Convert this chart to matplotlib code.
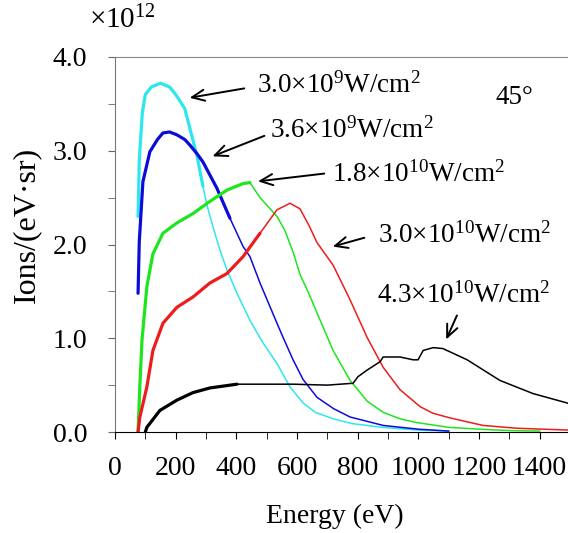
import numpy as np
import matplotlib
matplotlib.use("Agg")
import matplotlib.pyplot as plt
from matplotlib.ticker import MultipleLocator, FormatStrFormatter

plt.rcParams['font.family'] = ['Liberation Serif', 'DejaVu Serif']
plt.rcParams['mathtext.fontset'] = 'custom'
plt.rcParams['mathtext.rm'] = 'Liberation Serif'
plt.rcParams['mathtext.it'] = 'Liberation Serif:italic'

# energies (eV) and yields (x1e12 ions/(eV sr))
cyan_e = [76, 80, 90, 100, 120, 150, 180, 200, 230, 250, 270, 290, 303, 323, 346,
          369, 402, 445, 488, 534, 577, 620, 660, 720, 780, 880, 1000, 1100]
cyan_y = [2.3, 2.9, 3.4, 3.6, 3.68, 3.72, 3.68, 3.6, 3.45, 3.2, 2.95, 2.62, 2.42, 2.19, 1.94,
          1.73, 1.48, 1.19, 0.95, 0.73, 0.48, 0.31, 0.21, 0.14, 0.09, 0.05, 0.02, 0.01]

blue_e = [76, 80, 92, 115, 140, 158, 180, 204, 230, 247, 270, 290, 336, 379, 422,
          445, 478, 534, 554, 587, 620, 666, 720, 775, 884, 1000, 1100]
blue_y = [1.48, 2.03, 2.67, 2.99, 3.12, 3.19, 3.2, 3.17, 3.12, 3.06, 2.97, 2.88, 2.6, 2.28, 1.98,
          1.87, 1.59, 1.16, 1.01, 0.77, 0.56, 0.37, 0.25, 0.16, 0.07, 0.03, 0.01]

green_e = [76, 82, 89, 105, 125, 158, 204, 257, 313, 369, 422, 445, 478, 534, 560, 587,
           610, 640, 666, 719, 775, 831, 884, 940, 996, 1100, 1200, 1300, 1400]
green_y = [0.0, 0.5, 0.98, 1.55, 1.9, 2.12, 2.23, 2.33, 2.46, 2.58, 2.65, 2.66, 2.5, 2.3, 2.15, 1.92,
           1.68, 1.47, 1.27, 0.87, 0.55, 0.33, 0.21, 0.14, 0.1, 0.05, 0.03, 0.015, 0.01]

red_e = [76, 82, 105, 125, 158, 204, 257, 313, 369, 422, 478, 534, 577, 610, 640, 666,
         719, 775, 831, 884, 940, 1006, 1048, 1105, 1213, 1325, 1500]
red_y = [0.0, 0.16, 0.48, 0.87, 1.16, 1.33, 1.44, 1.59, 1.69, 1.87, 2.12, 2.37, 2.44, 2.38, 2.2, 2.02,
         1.78, 1.41, 1.01, 0.69, 0.45, 0.27, 0.2, 0.15, 0.07, 0.04, 0.02]

black_e = [100, 105, 148, 204, 257, 313, 402, 478, 587, 700, 785, 801, 831, 874, 884,
           940, 983, 999, 1016, 1049, 1081, 1161, 1269, 1378, 1490, 1500]
black_y = [0.0, 0.05, 0.23, 0.34, 0.42, 0.47, 0.51, 0.51, 0.51, 0.5, 0.52, 0.59, 0.66, 0.75, 0.8,
           0.8, 0.77, 0.77, 0.87, 0.9, 0.89, 0.77, 0.55, 0.41, 0.31, 0.30]

labels = ['3.0×10$^{9}$W/cm$^{2}$', '3.6×10$^{9}$W/cm$^{2}$',
          '1.8×10$^{10}$W/cm$^{2}$', '3.0×10$^{10}$W/cm$^{2}$',
          '4.3×10$^{10}$W/cm$^{2}$']

series = [
    (cyan_e, cyan_y, '#2ee6ee', 300),
    (blue_e, blue_y, '#0c0cd8', 420),
    (green_e, green_y, '#1ee61e', 460),
    (red_e, red_y, '#ee1c1c', 520),
    (black_e, black_y, '#000000', 460),
]

fig = plt.figure(figsize=(5.68, 5.33), dpi=100)
ax = fig.add_axes([115 / 568, 101 / 533, 455 / 568, 375 / 533])

for e, y, c, noisy_end in series:
    e = np.array(e, dtype=float)
    y = np.array(y)
    ax.plot(e, y, color=c, lw=1.1)
    m = e <= noisy_end
    ax.plot(e[m], y[m], color=c, lw=2.3, solid_joinstyle='round', solid_capstyle='round')

ax.set_xlim(0, 1500)
ax.set_ylim(0, 4.0)
ax.xaxis.set_major_locator(MultipleLocator(200))
ax.xaxis.set_minor_locator(MultipleLocator(100))
ax.yaxis.set_major_locator(MultipleLocator(1.0))
ax.yaxis.set_minor_locator(MultipleLocator(0.5))
ax.yaxis.set_major_formatter(FormatStrFormatter('%.1f'))
ax.tick_params(axis='both', which='both', direction='out', labelsize=20)
ax.tick_params(axis='x', which='both', length=5, pad=12)
ax.tick_params(axis='y', which='both', length=5, pad=15, color='#666666')
ax.spines['right'].set_visible(False)
ax.spines['top'].set_color('#888888')
ax.spines['left'].set_color('#777777')

fs = 19.5
arrow = dict(arrowstyle='->,head_length=0.9,head_width=0.4', color='black', lw=1.4)
# (arrow head, arrow tail, text position)
notes = [
    ((237, 3.56), (435, 3.67), (468, 3.62)),
    ((313, 2.93), (501, 3.17), (511, 3.14)),
    ((462, 2.67), (699, 2.76), (715, 2.67)),
    ((709, 1.97), (831, 2.08), (867, 2.02)),
    ((1088, 0.96), (1131, 1.27), (864, 1.38)),
]
for lab, (head, tail, txt) in zip(labels, notes):
    ax.annotate('', xy=head, xytext=tail, arrowprops=arrow)
    ax.text(txt[0], txt[1], lab, fontsize=fs, va='baseline', ha='left')

ax.text(1253, 3.50, '45°', fontsize=fs, va='baseline', ha='left')

fig.text(89 / 568, 1 - 28 / 533, '×10$^{12}$', fontsize=21, va='baseline', ha='left')
fig.text(335 / 568, 1 - 523 / 533, 'Energy (eV)', fontsize=20, va='baseline', ha='center')
fig.text(27 / 568, 1 - 225 / 533, 'Ions/(eV·sr)', fontsize=23, rotation=90,
         va='center', ha='center')

fig.savefig('out.png', dpi=100)
